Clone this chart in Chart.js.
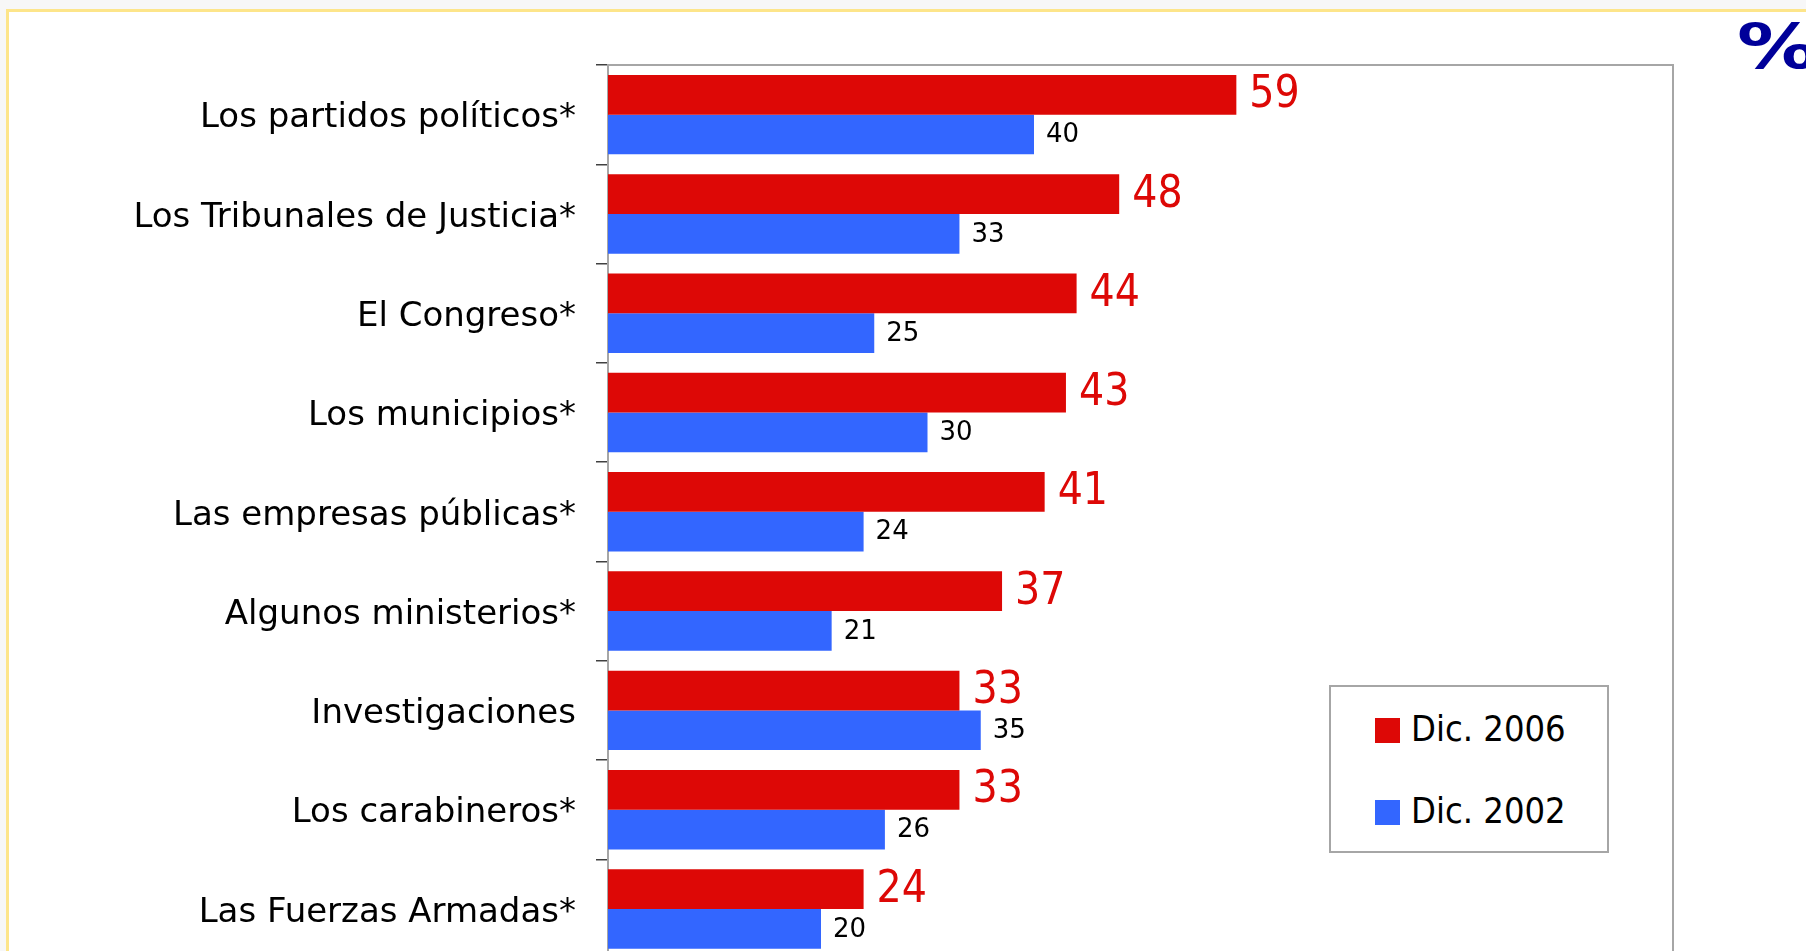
<!DOCTYPE html>
<html lang="es">
<head>
  <meta charset="UTF-8" />
  <title>Confianza en instituciones</title>
  <script src="https://cdn.jsdelivr.net/npm/chart.js"></script>
  <style>
    html, body { margin: 0; padding: 0; width: 1806px; height: 951px; overflow: hidden; background: #f7f7f7; }
    .frame { position: absolute; left: 6px; top: 9px; width: 1900px; height: 1100px; border: 3px solid #fde58a; background: #fff; box-sizing: border-box; }
    #chartWrap { position: absolute; left: 0; top: 0; width: 1806px; height: 999px; }
    .pct { position: absolute; left: 1737px; top: 10px; font: bold 63px "DejaVu Sans", sans-serif; color: #000099;
           transform: scaleX(1.28); transform-origin: left top; }
    .legend { position: absolute; left: 1329px; top: 685px; width: 280px; height: 168px; box-sizing: border-box;
              border: 2px solid #a6a6a6; background: #fff; font: 36px "DejaVu Sans Condensed", sans-serif; color: #000; }
    .legend .item { position: absolute; left: 44px; height: 40px; line-height: 40px; white-space: nowrap; }
    .legend .sw { display: inline-block; width: 25px; height: 25px; margin-right: 11px; vertical-align: -2px; }
  </style>
</head>
<body>
  <div class="frame"></div>
  <div id="chartWrap"><canvas id="bars" width="1806" height="999"></canvas></div>
  <div class="pct">%</div>
  <div class="legend" id="legend"></div>

  <script>
    // data
    const categories = [
      'Los partidos políticos*', 'Los Tribunales de Justicia*', 'El Congreso*',
      'Los municipios*', 'Las empresas públicas*', 'Algunos ministerios*',
      'Investigaciones', 'Los carabineros*', 'Las Fuerzas Armadas*'
    ];
    const dic2006 = [59, 48, 44, 43, 41, 37, 33, 33, 24];
    const dic2002 = [40, 33, 25, 30, 24, 21, 35, 26, 20];
    const seriesNames = ['Dic. 2006', 'Dic. 2002'];
    const seriesColors = ['#dd0806', '#3366ff'];

    // value labels next to each bar
    const labelStyles = [
      { font: '44px "DejaVu Sans Condensed"', color: '#dd0806', gap: 13 },
      { font: '26px "DejaVu Sans"', color: '#000000', gap: 12 }
    ];
    const valueLabels = {
      id: 'valueLabels',
      afterDatasetsDraw(chart) {
        const ctx = chart.ctx;
        chart.data.datasets.forEach((ds, i) => {
          const st = labelStyles[i];
          ctx.save();
          ctx.font = st.font;
          ctx.fillStyle = st.color;
          ctx.textAlign = 'left';
          ctx.textBaseline = 'middle';
          chart.getDatasetMeta(i).data.forEach((bar, j) => {
            ctx.fillText(String(ds.data[j]), bar.x + st.gap, bar.y + 1);
          });
          ctx.restore();
        });
      }
    };

    // grey frame round the plot area
    const plotFrame = {
      id: 'plotFrame',
      beforeDatasetsDraw(chart) {
        const a = chart.chartArea, ctx = chart.ctx;
        ctx.save();
        ctx.strokeStyle = '#a6a6a6';
        ctx.lineWidth = 2;
        ctx.strokeRect(a.left, a.top, a.right - a.left, a.bottom - a.top);
        ctx.restore();
      }
    };

    new Chart(document.getElementById('bars'), {
      type: 'bar',
      data: {
        labels: categories,
        datasets: [
          { label: seriesNames[0], data: dic2006, backgroundColor: seriesColors[0] },
          { label: seriesNames[1], data: dic2002, backgroundColor: seriesColors[1] }
        ]
      },
      options: {
        indexAxis: 'y',
        responsive: false,
        animation: false,
        datasets: { bar: { categoryPercentage: 0.8, barPercentage: 1.0 } },
        layout: { padding: { top: 65, right: 133, bottom: 4, left: 0 } },
        plugins: { legend: { display: false }, tooltip: { enabled: false } },
        scales: {
          x: { display: false, min: 0, max: 100 },
          y: {
            afterFit(scale) { scale.width = 608; },
            grid: { display: true, drawOnChartArea: false, offset: true, tickLength: 12, color: '#404040', lineWidth: 1.5 },
            border: { display: true, color: '#404040', width: 2 },
            ticks: { padding: 20, labelOffset: 4, color: '#000', font: { family: '"DejaVu Sans"', size: 34 } }
          }
        }
      },
      plugins: [plotFrame, valueLabels]
    });

    // legend box inside the plot
    const legend = document.getElementById('legend');
    seriesNames.forEach((name, i) => {
      const item = document.createElement('div');
      item.className = 'item';
      item.style.top = (22 + i * 82) + 'px';
      item.innerHTML = '<span class="sw" style="background:' + seriesColors[i] + '"></span>' + name;
      legend.appendChild(item);
    });
  </script>
</body>
</html>
